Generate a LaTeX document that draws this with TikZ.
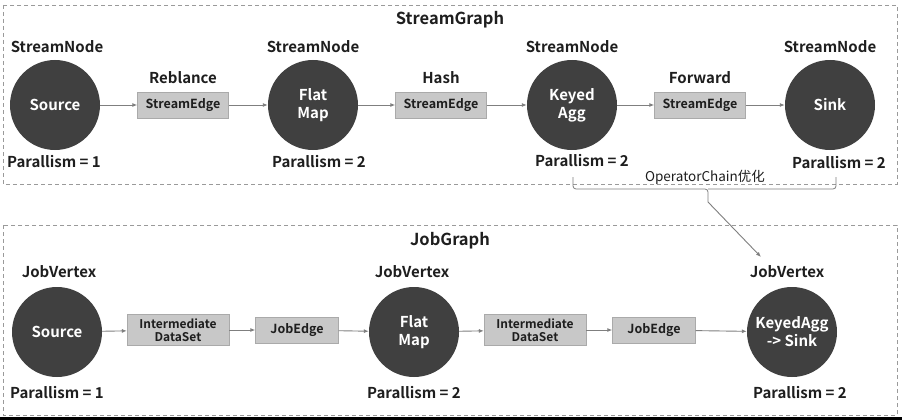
\documentclass[tikz,border=0pt]{standalone}
\usepackage{fontspec}
\setmainfont{Noto Sans CJK SC}[BoldFont={* Bold}]
\usetikzlibrary{arrows.meta}
\definecolor{circ}{HTML}{404040}
\definecolor{boxc}{HTML}{C8C8C8}
\definecolor{linec}{HTML}{7F7F7F}
\definecolor{dashc}{HTML}{9A9A9A}
\definecolor{txt}{HTML}{1E1E1E}
\tikzset{
  opnode/.style={circle,fill=circ,minimum size=90pt,inner sep=0pt,text=white,align=center,font=\fontsize{15}{18}\selectfont\bfseries},
  edgebox/.style={fill=boxc,draw=boxc!85!black,line width=0.4pt,inner sep=0pt,align=center,text=txt,font=\fontsize{12.5}{14}\selectfont\bfseries},
  lab/.style={text=txt,font=\fontsize{15}{18}\selectfont\bfseries,inner sep=0pt},
  title/.style={text=txt,font=\fontsize{16.5}{19}\selectfont\bfseries,inner sep=0pt},
  conn/.style={draw=linec,line width=0.9pt,-{Latex[length=5pt,width=4pt]}},
  bracel/.style={draw=linec,line width=0.8pt,rounded corners=3pt},
  frame/.style={draw=dashc,line width=0.9pt,dash pattern=on 4pt off 3pt}
}
\begin{document}
\begin{tikzpicture}[x=1pt,y=-1pt]
\useasboundingbox (0,0) rectangle (902,420);
\fill[white] (0,0) rectangle (902,420);
% frames
\draw[frame] (3,5) rectangle (897,184);
\draw[frame] (3,225) rectangle (897,415);
\fill[black] (0,416.5) rectangle (902,420);
\node[title] (sg) at (450,20) {StreamGraph};
\node[title] (jg) at (450,241) {JobGraph};
% stream graph
\node[opnode] (s1) at (55,105) {Source};
\node[opnode] (s2) at (313,105) {Flat\\Map};
\node[opnode] (s3) at (572,105) {Keyed\\Agg};
\node[opnode] (s4) at (830,105) {Sink};
\node[edgebox,minimum width=91pt,minimum height=26pt] (e1) at (183,105) {StreamEdge};
\node[edgebox,minimum width=91pt,minimum height=26pt] (e2) at (441,105) {StreamEdge};
\node[edgebox,minimum width=91pt,minimum height=26pt] (e3) at (700,105) {StreamEdge};
\node[lab] (l1) at (57,47) {StreamNode};
\node[lab] (l2) at (313,47) {StreamNode};
\node[lab] (l3) at (572,47) {StreamNode};
\node[lab] (l4) at (830,47) {StreamNode};
\node[lab] (r1) at (183,78) {Reblance};
\node[lab] (r2) at (441,78) {Hash};
\node[lab] (r3) at (700,78) {Forward};
\node[lab] (p1) at (54,162) {Parallism = 1};
\node[lab] (p2) at (319,162) {Parallism = 2};
\node[lab] (p3) at (582,161) {Parallism = 2};
\node[lab] (p4) at (839,163) {Parallism = 2};
\draw[conn] (s1) -- (e1);
\draw[conn] (e1) -- (s2);
\draw[conn] (s2) -- (e2);
\draw[conn] (e2) -- (s3);
\draw[conn] (s3) -- (e3);
\draw[conn] (e3) -- (s4);
% brace
\coordinate (bl) at (573,177);
\coordinate (br) at (836,177);
\coordinate (bt) at (708,202);
\draw[bracel] (bl) -- (573,189) -- (708,189) -- (bt);
\draw[bracel] (br) -- (836,189) -- (708,189);
\node[text=txt,font=\fontsize{13.5}{15}\selectfont,inner sep=0pt] (oc) at (705,177) {OperatorChain优化};
% job graph
\node[opnode] (j1) at (57,332) {Source};
\node[opnode] (j2) at (414,332) {Flat\\Map};
\node[opnode] (j3) at (792,332) {KeyedAgg\\-> Sink};
\node[edgebox,minimum width=102pt,minimum height=31pt,font=\fontsize{12}{13.5}\selectfont\bfseries] (d1) at (178,330) {Intermediate\\DataSet};
\node[edgebox,minimum width=83pt,minimum height=26pt] (g1) at (297,330) {JobEdge};
\node[edgebox,minimum width=102pt,minimum height=31pt,font=\fontsize{12}{13.5}\selectfont\bfseries] (d2) at (535,330) {Intermediate\\DataSet};
\node[edgebox,minimum width=83pt,minimum height=26pt] (g2) at (654,330) {JobEdge};
\node[lab] (v1) at (59,272) {JobVertex};
\node[lab] (v2) at (412,272) {JobVertex};
\node[lab] (v3) at (787,272) {JobVertex};
\node[lab] (q1) at (57,393) {Parallism = 1};
\node[lab] (q2) at (414,393) {Parallism = 2};
\node[lab] (q3) at (800,393) {Parallism = 2};
\draw[conn] (j1) -- (d1);
\draw[conn] (d1) -- (g1);
\draw[conn] (g1) -- (j2);
\draw[conn] (j2) -- (d2);
\draw[conn] (d2) -- (g2);
\draw[conn] (g2) -- (j3);
\coordinate (at) at (761,257);
\draw[conn] (bt) -- (at);
\end{tikzpicture}
\end{document}
